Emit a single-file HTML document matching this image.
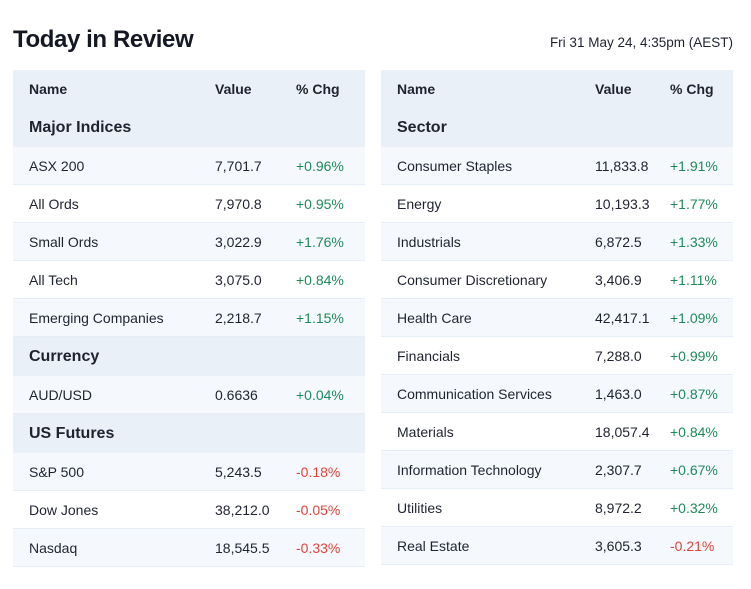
<!DOCTYPE html>
<html><head><meta charset="utf-8"><style>
*{margin:0;padding:0;box-sizing:border-box}
body{width:751px;height:589px;background:#fff;font-family:"Liberation Sans",sans-serif;color:#1f2330;position:relative;overflow:hidden}
h1{position:absolute;left:13px;top:26px;font-size:24px;font-weight:bold;color:#141824;letter-spacing:-0.4px}
.date{position:absolute;right:18px;top:35px;font-size:13.5px;color:#1f2330}
.tbl{position:absolute;top:70px;width:352px}
.row{height:38px;display:flex;align-items:center;font-size:14px;border-bottom:1px solid #e6edf5;position:relative}
.row span{position:absolute}
.hd{background:#e9f0f8;font-weight:bold;border-bottom:none;height:38px}
.sec{background:#e9f0f8;font-weight:bold;font-size:16px;border-bottom:none;height:39px}
.l{background:#f5f8fc}
.up{color:#1e8a5a}.dn{color:#e0443a}
</style></head><body>
<h1>Today in Review</h1>
<div class="date">Fri 31 May 24, 4:35pm (AEST)</div>
<div class="tbl" style="left:13px" id="lt"></div>
<div class="tbl" style="left:381px" id="rt"></div>
<script>
const leftRows=[["h"],["s","Major Indices"],["ASX 200","7,701.7","+0.96%"],["All Ords","7,970.8","+0.95%"],["Small Ords","3,022.9","+1.76%"],["All Tech","3,075.0","+0.84%"],["Emerging Companies","2,218.7","+1.15%"],["s","Currency"],["AUD/USD","0.6636","+0.04%"],["s","US Futures"],["S&P 500","5,243.5","-0.18%"],["Dow Jones","38,212.0","-0.05%"],["Nasdaq","18,545.5","-0.33%"]];
const rightRows=[["h"],["s","Sector"],["Consumer Staples","11,833.8","+1.91%"],["Energy","10,193.3","+1.77%"],["Industrials","6,872.5","+1.33%"],["Consumer Discretionary","3,406.9","+1.11%"],["Health Care","42,417.1","+1.09%"],["Financials","7,288.0","+0.99%"],["Communication Services","1,463.0","+0.87%"],["Materials","18,057.4","+0.84%"],["Information Technology","2,307.7","+0.67%"],["Utilities","8,972.2","+0.32%"],["Real Estate","3,605.3","-0.21%"]];
function build(id,rows,cols){
  const t=document.getElementById(id);let k=0;
  rows.forEach(r=>{
    const d=document.createElement('div');
    if(r[0]==="h"){d.className='row hd';
      
      d.innerHTML=`<span style="left:${cols[0]}px">Name</span><span style="left:${cols[1]}px">Value</span><span style="left:${cols[2]}px">% Chg</span>`;}
    else if(r[0]==="s"){d.className='row sec';k=0;
      
      d.innerHTML=`<span style="left:${cols[0]}px">${r[1]}</span>`;}
    else{d.className='row'+(k%2===0?' l':'');k++;
      
      const c=r[2][0]==='-'?'dn':'up';
      d.innerHTML=`<span style="left:${cols[0]}px">${r[0]}</span><span style="left:${cols[1]}px">${r[1]}</span><span class="${c}" style="left:${cols[2]}px">${r[2]}</span>`;}
    
    t.appendChild(d);
  });
}
build('lt',leftRows,[16,202,283]);
build('rt',rightRows,[16,214,289]);
</script>
</body></html>
